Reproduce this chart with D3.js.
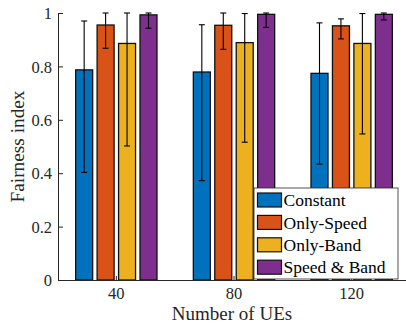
<!DOCTYPE html>
<html>
<head>
<meta charset="utf-8">
<script src="https://cdn.jsdelivr.net/npm/d3@7"></script>
<style>
  body { margin: 0; background: #fff; }
</style>
</head>
<body>
<script>
// data
var categories = ["40", "80", "120"];
var seriesNames = ["Constant", "Only-Speed", "Only-Band", "Speed & Band"];
var seriesColors = ["#0072BD", "#D95319", "#EDB120", "#7E2F8E"];

// mean value of every series per category
var constantMean = [0.787, 0.779, 0.774];
var onlySpeedMean = [0.955, 0.954, 0.952];
var onlyBandMean = [0.886, 0.889, 0.886];
var speedBandMean = [0.993, 0.995, 0.995];

// error bar ends (low / high)
var constantLow = [0.403, 0.372, 0.434];
var constantHigh = [0.970, 0.956, 0.963];
var onlySpeedLow = [0.868, 0.864, 0.903];
var onlySpeedHigh = [1.0, 1.0, 0.978];
var onlyBandLow = [0.502, 0.516, 0.547];
var onlyBandHigh = [1.0, 0.998, 0.998];
var speedBandLow = [0.943, 0.946, 0.974];
var speedBandHigh = [1.0, 1.0, 1.0];

var yTicks = [0, 0.2, 0.4, 0.6, 0.8, 1];

var means = [constantMean, onlySpeedMean, onlyBandMean, speedBandMean];
var lows = [constantLow, onlySpeedLow, onlyBandLow, speedBandLow];
var highs = [constantHigh, onlySpeedHigh, onlyBandHigh, speedBandHigh];

// flatten into one row per bar
var rows = [];
categories.forEach(function(c, ci){
    seriesNames.forEach(function(s, si){
        rows.push({cat: c, series: s, idx: si, value: means[si][ci], lo: lows[si][ci], hi: highs[si][ci]});
    });
});

var width = 406, height = 326;
// plot box (window.top is reserved, so prefixed names)
var plotLeft = 58, plotRight = 406, plotTop = 13, plotBottom = 280;
// no serif face in the sandbox, so fall back to a sans with Arial metrics
var fontFam = "'Liberation Serif', 'Liberation Sans', Arial, sans-serif";

var svg = d3.select("body").append("svg")
    .attr("width", width)
    .attr("height", height)
    .style("font-family", fontFam);

// scales
var x0 = d3.scaleBand()
    .domain(categories)
    .range([57.5, 410.5])
    .padding(0);

var x1 = d3.scaleBand()
    .domain(seriesNames)
    .range([0, x0.bandwidth()])
    .paddingInner(0.2075)
    .paddingOuter(0.847);

var y = d3.scaleLinear()
    .domain([0, 1])
    .range([plotBottom, plotTop]);

var color = d3.scaleOrdinal()
    .domain(seriesNames)
    .range(seriesColors);

// bars
svg.append("g").selectAll("rect")
    .data(rows)
    .enter().append("rect")
    .attr("x", function(d){ return x0(d.cat) + x1(d.series); })
    .attr("y", function(d){ return y(d.value); })
    .attr("width", x1.bandwidth())
    .attr("height", function(d){ return y(0) - y(d.value); })
    .attr("fill", function(d){ return color(d.series); })
    .attr("stroke", "#111")
    .attr("stroke-width", 1.3);

// error bars
var eb = svg.append("g").attr("stroke", "#000").attr("stroke-width", 1.1);
rows.forEach(function(d){
    var cx = x0(d.cat) + x1(d.series) + x1.bandwidth() / 2;
    eb.append("line").attr("x1", cx).attr("x2", cx).attr("y1", y(d.lo)).attr("y2", y(d.hi));
    eb.append("line").attr("x1", cx - 3).attr("x2", cx + 3).attr("y1", y(d.lo)).attr("y2", y(d.lo));
    eb.append("line").attr("x1", cx - 3).attr("x2", cx + 3).attr("y1", y(d.hi)).attr("y2", y(d.hi));
});

// y axis, ticks pointing inward
var yAxis = svg.append("g")
    .attr("transform", "translate(" + plotLeft + ",0)")
    .call(d3.axisRight(y).tickValues(yTicks).tickSize(5).tickFormat(function(d){ return d; }));
yAxis.attr("font-family", null);
yAxis.select(".domain").attr("d", "M0.5," + plotTop + "V" + plotBottom).attr("stroke", "#262626");
yAxis.selectAll(".tick line").attr("stroke", "#262626");
yAxis.selectAll(".tick text")
    .attr("x", -6)
    .attr("dy", "0.35em")
    .attr("text-anchor", "end")
    .attr("fill", "#262626")
    .style("font-family", fontFam)
    .style("font-size", "16.5px");

// x axis, ticks pointing inward
var xAxis = svg.append("g")
    .attr("transform", "translate(0," + plotBottom + ")")
    .call(d3.axisTop(x0).tickSize(4).tickSizeOuter(0));
xAxis.attr("font-family", null);
xAxis.select(".domain").attr("d", "M" + plotLeft + ",0.5H" + plotRight).attr("stroke", "#262626");
xAxis.selectAll(".tick line").attr("stroke", "#262626");
xAxis.selectAll(".tick text")
    .attr("y", 19)
    .attr("dy", 0)
    .attr("fill", "#262626")
    .style("font-family", fontFam)
    .style("font-size", "16.5px");

// axis titles
svg.append("text")
    .attr("x", (plotLeft + plotRight) / 2)
    .attr("y", 319.5)
    .attr("text-anchor", "middle")
    .attr("fill", "#262626")
    .style("font-family", fontFam)
    .style("font-size", "19px")
    .text("Number of UEs");

svg.append("text")
    .attr("transform", "translate(24," + (plotTop + plotBottom) / 2 + ") rotate(-90)")
    .attr("text-anchor", "middle")
    .attr("fill", "#262626")
    .style("font-family", fontFam)
    .style("font-size", "19.3px")
    .text("Fairness index");

// legend
var lg = svg.append("g").attr("transform", "translate(254,188)");
lg.append("rect")
    .attr("width", 144)
    .attr("height", 91)
    .attr("fill", "#fff")
    .attr("stroke", "#262626")
    .attr("stroke-width", 0.8);

var item = lg.selectAll(".item")
    .data(seriesNames)
    .enter().append("g")
    .attr("transform", function(d, i){ return "translate(0," + (12 + i * 22.4) + ")"; });

item.append("rect")
    .attr("x", 3.5)
    .attr("y", -7)
    .attr("width", 24)
    .attr("height", 14)
    .attr("fill", function(d){ return color(d); })
    .attr("stroke", "#111")
    .attr("stroke-width", 1.2);

item.append("text")
    .attr("x", 29.5)
    .attr("dy", "0.35em")
    .attr("fill", "#000")
    .style("font-family", fontFam)
    .style("font-size", "17.5px")
    .text(function(d){ return d; });
</script>
</body>
</html>
